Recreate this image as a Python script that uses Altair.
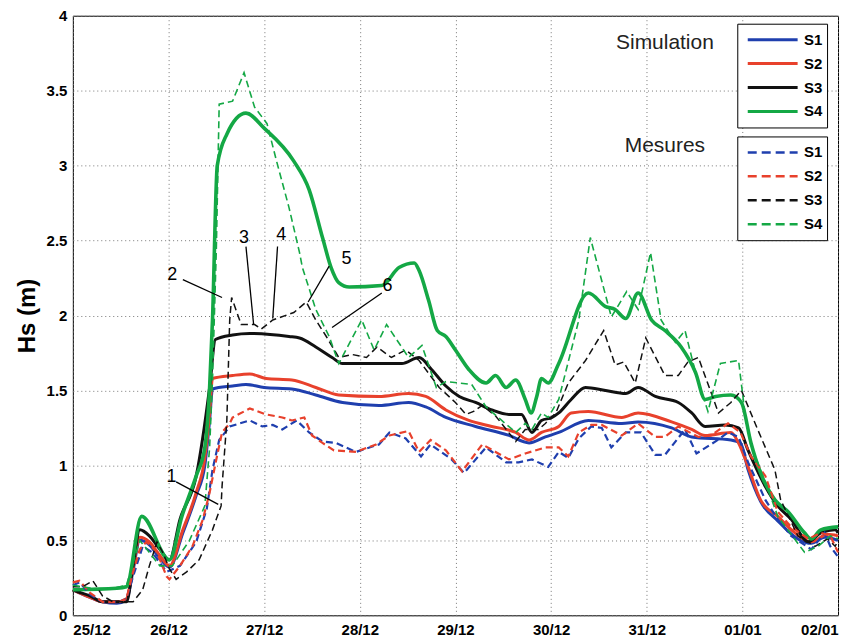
import json
import altair as alt
import pandas as pd

# ---------------- data ----------------
x_labels = ["25/12", "26/12", "27/12", "28/12", "29/12", "30/12", "31/12", "01/01", "02/01"]
y_ticks = [0, 0.5, 1, 1.5, 2, 2.5, 3, 3.5, 4]
series = ["S1", "S2", "S3", "S4"]
colors = ["#1f3fae", "#e8412c", "#111111", "#14a845"]

# Simulation (solid)
s1_sim_day = [0, 0.18, 0.31, 0.46, 0.56, 0.63, 0.70, 0.80, 0.91, 1.01, 1.15, 1.29, 1.38, 1.43, 1.46, 1.67, 1.81, 2.00, 2.29, 2.54, 2.82, 3.20, 3.51, 3.69, 3.90, 4.21, 4.56, 4.77, 4.94, 5.08, 5.39, 5.74, 5.91, 6.26, 6.47, 6.88, 6.98, 7.06, 7.19, 7.37, 7.58, 7.72, 7.86, 8.0]
s1_sim_hs = [0.17, 0.12, 0.09, 0.08, 0.10, 0.30, 0.50, 0.47, 0.38, 0.32, 0.55, 0.80, 1.00, 1.30, 1.51, 1.53, 1.54, 1.52, 1.51, 1.47, 1.42, 1.40, 1.42, 1.39, 1.32, 1.26, 1.20, 1.15, 1.19, 1.22, 1.30, 1.28, 1.29, 1.25, 1.19, 1.17, 1.15, 0.97, 0.76, 0.63, 0.51, 0.48, 0.52, 0.50]

s2_sim_day = [0, 0.18, 0.31, 0.46, 0.56, 0.63, 0.70, 0.80, 0.91, 1.01, 1.15, 1.29, 1.38, 1.43, 1.46, 1.67, 1.85, 2.02, 2.29, 2.54, 2.78, 3.20, 3.51, 3.69, 3.90, 4.14, 4.38, 4.63, 4.77, 4.90, 5.08, 5.21, 5.39, 5.74, 5.91, 6.26, 6.47, 6.61, 6.88, 6.96, 7.06, 7.19, 7.37, 7.55, 7.72, 7.89, 8.0]
s2_sim_hs = [0.17, 0.12, 0.09, 0.09, 0.11, 0.32, 0.52, 0.49, 0.40, 0.33, 0.57, 0.82, 1.05, 1.35, 1.58, 1.60, 1.61, 1.58, 1.57, 1.52, 1.47, 1.46, 1.48, 1.46, 1.37, 1.30, 1.26, 1.22, 1.17, 1.22, 1.26, 1.35, 1.36, 1.32, 1.35, 1.29, 1.24, 1.20, 1.22, 1.15, 0.99, 0.77, 0.66, 0.55, 0.49, 0.54, 0.53]

s3_sim_day = [0, 0.04, 0.18, 0.31, 0.56, 0.63, 0.70, 0.80, 0.91, 1.01, 1.12, 1.29, 1.43, 1.49, 1.67, 1.85, 2.26, 2.37, 2.54, 2.71, 2.82, 3.20, 3.44, 3.62, 3.75, 3.90, 4.04, 4.21, 4.38, 4.56, 4.69, 4.80, 4.90, 5.01, 5.08, 5.21, 5.36, 5.57, 5.78, 5.91, 6.09, 6.33, 6.47, 6.61, 6.82, 6.96, 7.06, 7.24, 7.37, 7.51, 7.69, 7.82, 7.97, 8.0]
s3_sim_hs = [0.17, 0.16, 0.13, 0.09, 0.09, 0.33, 0.57, 0.53, 0.44, 0.37, 0.64, 0.93, 1.52, 1.84, 1.87, 1.88, 1.86, 1.85, 1.79, 1.72, 1.68, 1.68, 1.68, 1.72, 1.64, 1.53, 1.46, 1.42, 1.37, 1.34, 1.34, 1.22, 1.30, 1.32, 1.35, 1.44, 1.52, 1.50, 1.48, 1.52, 1.46, 1.42, 1.35, 1.26, 1.27, 1.25, 1.10, 0.86, 0.73, 0.64, 0.49, 0.55, 0.57, 0.55]

s4_sim_day = [0, 0.46, 0.56, 0.72, 1.01, 1.14, 1.29, 1.38, 1.43, 1.46, 1.51, 1.61, 1.81, 2.00, 2.31, 2.47, 2.61, 2.70, 2.78, 2.89, 3.23, 3.41, 3.57, 3.62, 3.72, 3.81, 3.90, 4.00, 4.14, 4.32, 4.42, 4.53, 4.63, 4.73, 4.79, 4.85, 4.90, 4.97, 5.08, 5.39, 5.57, 5.67, 5.78, 5.91, 6.05, 6.19, 6.36, 6.51, 6.61, 6.72, 6.88, 6.99, 7.09, 7.19, 7.34, 7.48, 7.65, 7.72, 7.82, 8.0]
s4_sim_hs = [0.17, 0.18, 0.19, 0.66, 0.37, 0.66, 0.93, 1.12, 1.52, 1.97, 3.00, 3.21, 3.35, 3.25, 3.03, 2.84, 2.52, 2.32, 2.22, 2.19, 2.20, 2.32, 2.35, 2.30, 2.10, 1.90, 1.86, 1.77, 1.64, 1.55, 1.60, 1.52, 1.57, 1.44, 1.35, 1.46, 1.58, 1.55, 1.68, 2.15, 2.06, 2.04, 1.98, 2.15, 1.97, 1.90, 1.79, 1.62, 1.44, 1.46, 1.47, 1.42, 1.15, 0.95, 0.77, 0.69, 0.55, 0.51, 0.57, 0.59]

# Mesures (dashed)
s1_mes_day = [0, 0.07, 0.18, 0.31, 0.49, 0.56, 0.63, 0.73, 0.83, 0.98, 1.12, 1.29, 1.40, 1.46, 1.53, 1.64, 1.85, 1.98, 2.09, 2.19, 2.34, 2.47, 2.61, 2.75, 2.96, 3.20, 3.31, 3.48, 3.64, 3.74, 3.96, 4.09, 4.32, 4.53, 4.66, 4.80, 4.97, 5.08, 5.18, 5.29, 5.42, 5.53, 5.63, 5.78, 5.94, 6.09, 6.19, 6.40, 6.52, 6.72, 6.85, 6.96, 7.06, 7.24, 7.37, 7.51, 7.72, 7.86, 7.92, 8.0]
s1_mes_hs = [0.20, 0.22, 0.14, 0.09, 0.09, 0.11, 0.26, 0.46, 0.42, 0.29, 0.33, 0.49, 0.71, 0.97, 1.17, 1.26, 1.30, 1.26, 1.27, 1.24, 1.30, 1.22, 1.16, 1.15, 1.09, 1.14, 1.22, 1.18, 1.06, 1.14, 1.04, 0.95, 1.12, 1.02, 1.02, 1.04, 0.99, 1.09, 1.05, 1.18, 1.26, 1.25, 1.12, 1.22, 1.22, 1.07, 1.07, 1.24, 1.08, 1.16, 1.22, 1.19, 1.02, 0.77, 0.64, 0.53, 0.44, 0.55, 0.46, 0.39]

s2_mes_day = [0, 0.07, 0.18, 0.31, 0.49, 0.56, 0.63, 0.70, 0.77, 0.88, 0.98, 1.01, 1.12, 1.25, 1.36, 1.43, 1.50, 1.56, 1.64, 1.67, 1.85, 2.02, 2.19, 2.29, 2.42, 2.50, 2.61, 2.73, 2.96, 3.17, 3.31, 3.51, 3.62, 3.74, 3.90, 4.07, 4.28, 4.42, 4.56, 4.73, 4.94, 5.08, 5.18, 5.29, 5.42, 5.53, 5.74, 5.91, 6.09, 6.19, 6.33, 6.54, 6.67, 6.85, 6.98, 7.09, 7.24, 7.37, 7.51, 7.69, 7.82, 7.92, 8.0]
s2_mes_hs = [0.22, 0.23, 0.15, 0.09, 0.09, 0.11, 0.29, 0.44, 0.49, 0.42, 0.26, 0.24, 0.33, 0.46, 0.64, 0.82, 1.04, 1.22, 1.28, 1.32, 1.38, 1.34, 1.32, 1.30, 1.32, 1.20, 1.15, 1.10, 1.09, 1.14, 1.20, 1.23, 1.09, 1.17, 1.10, 0.96, 1.14, 1.09, 1.04, 1.08, 1.12, 1.12, 1.06, 1.22, 1.27, 1.27, 1.20, 1.28, 1.19, 1.19, 1.26, 1.19, 1.20, 1.28, 1.22, 1.06, 0.93, 0.69, 0.59, 0.51, 0.55, 0.53, 0.42]

s3_mes_day = [0, 0.10, 0.21, 0.31, 0.42, 0.63, 0.73, 0.80, 0.88, 0.94, 1.01, 1.08, 1.19, 1.32, 1.46, 1.55, 1.56, 1.61, 1.64, 1.66, 1.76, 1.90, 1.97, 2.09, 2.31, 2.44, 2.54, 2.65, 2.78, 2.92, 3.07, 3.18, 3.33, 3.48, 3.62, 3.83, 4.00, 4.11, 4.19, 4.28, 4.42, 4.63, 4.73, 4.87, 4.94, 5.05, 5.18, 5.36, 5.55, 5.67, 5.76, 5.88, 5.99, 6.19, 6.33, 6.43, 6.54, 6.75, 6.88, 6.99, 7.16, 7.34, 7.40, 7.58, 7.76, 7.89, 7.97, 8.0]
s3_mes_hs = [0.19, 0.19, 0.23, 0.13, 0.09, 0.09, 0.17, 0.33, 0.49, 0.42, 0.31, 0.24, 0.29, 0.37, 0.57, 0.73, 0.86, 1.30, 1.97, 2.12, 1.94, 1.94, 1.91, 1.97, 2.02, 2.09, 1.97, 1.86, 1.72, 1.74, 1.72, 1.79, 1.72, 1.77, 1.70, 1.52, 1.42, 1.34, 1.36, 1.40, 1.33, 1.16, 1.24, 1.24, 1.28, 1.35, 1.55, 1.70, 1.90, 1.67, 1.69, 1.55, 1.85, 1.60, 1.60, 1.69, 1.72, 1.35, 1.42, 1.50, 1.24, 0.97, 0.77, 0.53, 0.46, 0.51, 0.46, 0.50]

s4_mes_day = [0, 0.10, 0.31, 0.49, 0.56, 0.70, 0.91, 1.04, 1.22, 1.38, 1.43, 1.46, 1.50, 1.53, 1.67, 1.79, 1.90, 2.03, 2.13, 2.26, 2.37, 2.40, 2.54, 2.68, 2.78, 3.02, 3.15, 3.28, 3.51, 3.65, 3.80, 3.90, 4.17, 4.32, 4.63, 4.73, 4.80, 4.90, 4.97, 5.08, 5.29, 5.41, 5.63, 5.79, 5.91, 6.04, 6.15, 6.30, 6.40, 6.51, 6.64, 6.77, 6.96, 7.03, 7.09, 7.24, 7.37, 7.65, 7.79, 7.92, 8.0]
s4_mes_hs = [0.20, 0.19, 0.17, 0.19, 0.20, 0.50, 0.33, 0.33, 0.50, 0.73, 1.12, 1.57, 2.44, 3.41, 3.43, 3.62, 3.39, 3.28, 3.03, 2.72, 2.42, 2.32, 2.04, 1.86, 1.68, 1.97, 1.77, 1.94, 1.72, 1.80, 1.52, 1.56, 1.54, 1.39, 1.22, 1.28, 1.24, 1.35, 1.32, 1.44, 1.97, 2.52, 1.99, 2.16, 2.04, 2.42, 1.97, 1.82, 1.90, 1.62, 1.36, 1.68, 1.70, 1.33, 1.13, 0.89, 0.66, 0.42, 0.46, 0.53, 0.51]

# annotations
ann_text = ["1", "2", "3", "4", "5", "6"]
ann_day = [1.03, 1.04, 1.79, 2.18, 2.86, 3.29]
ann_hs = [0.92, 2.27, 2.52, 2.54, 2.38, 2.20]
lead_day1 = [1.08, 1.15, 1.81, 2.14, 2.68, 3.23]
lead_hs1 = [0.89, 2.24, 2.46, 2.46, 2.33, 2.15]
lead_day2 = [1.52, 1.56, 1.89, 2.09, 2.46, 2.71]
lead_hs2 = [0.74, 2.12, 1.94, 1.98, 2.09, 1.92]

head_text = ["Simulation", "Mesures"]
head_day = [6.19, 6.19]
head_hs = [3.82, 3.13]

# ---------------- tables ----------------
sim_sets = [(s1_sim_day, s1_sim_hs), (s2_sim_day, s2_sim_hs), (s3_sim_day, s3_sim_hs), (s4_sim_day, s4_sim_hs)]
mes_sets = [(s1_mes_day, s1_mes_hs), (s2_mes_day, s2_mes_hs), (s3_mes_day, s3_mes_hs), (s4_mes_day, s4_mes_hs)]
sim_width = [3.0, 3.0, 3.0, 3.6]
mes_width = [2.2, 2.2, 1.5, 1.6]

rows = []
for name, (d, h), w in zip(series, sim_sets, sim_width):
    for i, (a, b) in enumerate(zip(d, h)):
        rows.append({"day": a, "hs": b, "serie": name, "idx": i, "w": w})
df_sim = pd.DataFrame(rows)

rows = []
for name, (d, h), w in zip(series, mes_sets, mes_width):
    for i, (a, b) in enumerate(zip(d, h)):
        rows.append({"day": a, "hs": b, "serie": name, "idx": i, "w": w})
df_mes = pd.DataFrame(rows)

df_ann = pd.DataFrame({"day": ann_day, "hs": ann_hs, "txt": ann_text})
df_lead = pd.DataFrame({"day": lead_day1, "hs": lead_hs1, "day2": lead_day2, "hs2": lead_hs2})
df_head = pd.DataFrame({"day": head_day, "hs": head_hs, "txt": head_text})

FONT = "Liberation Sans"

X = alt.X("day:Q",
          scale=alt.Scale(domain=[0, 8], nice=False, zero=False),
          axis=alt.Axis(values=list(range(9)), title=None,
                        labelExpr=json.dumps(x_labels) + "[datum.value]",
                        labelPadding=7))
Y = alt.Y("hs:Q",
          scale=alt.Scale(domain=[0, 4], nice=False),
          axis=alt.Axis(values=y_ticks, title="Hs (m)", format="~g",
                        labelPadding=6, titlePadding=7))

leg_common = dict(title=None, orient="none", legendX=666, symbolType="stroke",
                  symbolSize=2500, labelFontSize=15, labelFontWeight="bold",
                  labelFont=FONT, labelColor="black", strokeColor="black",
                  fillColor="white", padding=4, clipHeight=24, rowPadding=0,
                  symbolOffset=5, labelOffset=5)

sim = alt.Chart(df_sim).mark_line(interpolate="monotone").encode(
    x=X, y=Y,
    color=alt.Color("serie:N", scale=alt.Scale(domain=series, range=colors),
                    legend=alt.Legend(legendY=8, symbolStrokeWidth=3, **leg_common)),
    strokeWidth=alt.StrokeWidth("w:Q", scale=None, legend=None),
    order=alt.Order("idx:Q"),
)

mes = alt.Chart(df_mes).mark_line(strokeDash=[7, 4]).encode(
    x=X, y=Y,
    color=alt.Color("serie:N", scale=alt.Scale(domain=series, range=colors),
                    legend=alt.Legend(legendY=121, symbolStrokeWidth=2.5,
                                      symbolDash=[9, 5], **leg_common)),
    strokeWidth=alt.StrokeWidth("w:Q", scale=None, legend=None),
    order=alt.Order("idx:Q"),
)

leads = alt.Chart(df_lead).mark_rule(color="black", strokeWidth=1.3).encode(
    x=X, y=Y, x2="day2:Q", y2="hs2:Q")

nums = alt.Chart(df_ann).mark_text(font=FONT, fontSize=18, color="black",
                                   align="center", baseline="middle").encode(
    x=X, y=Y, text="txt:N")

heads = alt.Chart(df_head).mark_text(font=FONT, fontSize=21, color="#222",
                                     align="center", baseline="middle").encode(
    x=X, y=Y, text="txt:N")

chart = alt.layer(sim, mes, leads, nums, heads).resolve_scale(
    color="independent"
).properties(
    width=767, height=601,
    autosize=alt.AutoSizeParams(type="none"),
    padding={"left": 65, "top": 7, "right": 12, "bottom": 22},
    background="white",
).configure_view(
    stroke="black", strokeWidth=1
).configure_axis(
    grid=True, gridColor="#777", gridDash=[1, 3], gridWidth=1, gridOpacity=1,
    domain=False, ticks=False,
    labelFont=FONT, labelFontSize=15, labelFontWeight="bold", labelColor="black",
    titleFont=FONT, titleFontSize=24, titleFontWeight="bold", titleColor="black",
)

chart.save("out.html", embed_options={"renderer": "svg", "actions": False})
